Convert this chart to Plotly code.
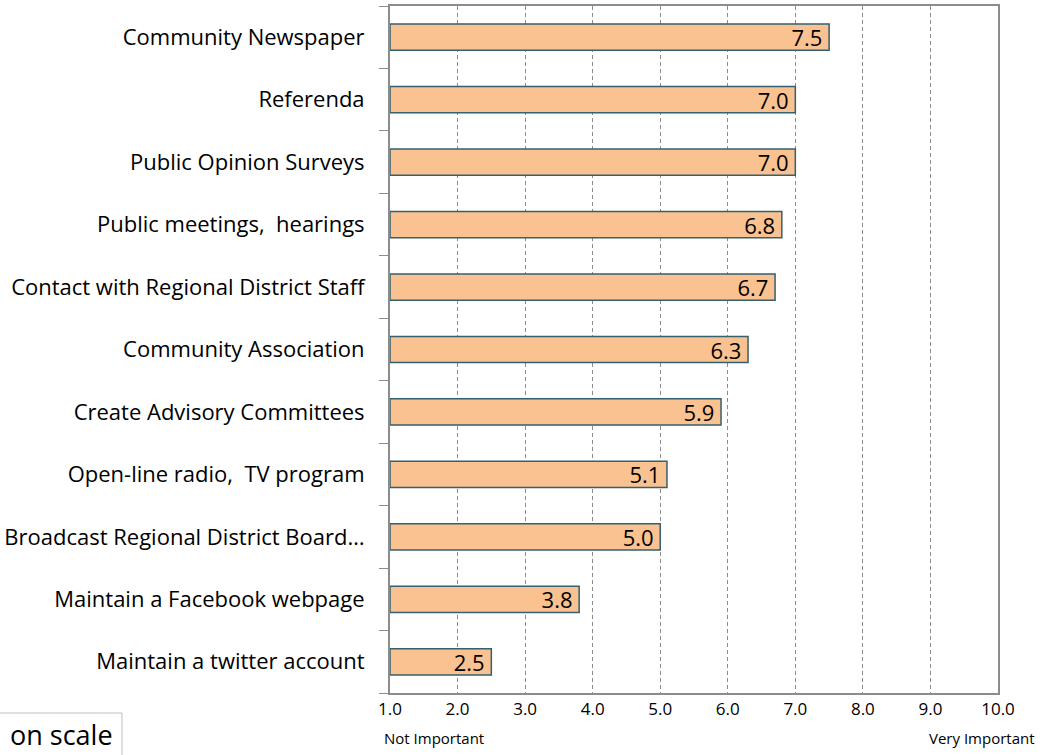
import plotly.graph_objects as go

categories = [
    "Community Newspaper",
    "Referenda",
    "Public Opinion Surveys",
    "Public meetings,  hearings",
    "Contact with Regional District Staff",
    "Community Association",
    "Create Advisory Committees",
    "Open-line radio,  TV program",
    "Broadcast Regional District Board…",
    "Maintain a Facebook webpage",
    "Maintain a twitter account",
]
values = [7.5, 7.0, 7.0, 6.8, 6.7, 6.3, 5.9, 5.1, 5.0, 3.8, 2.5]
tick_vals = [1, 2, 3, 4, 5, 6, 7, 8, 9, 10]
scale_low = "Not Important"
scale_high = "Very Important"
note_text = "on scale"
base_value = 1.0

FONT = "Open Sans"

fig = go.Figure()
fig.add_trace(go.Bar(
    y=categories,
    x=[v - base_value for v in values],
    base=base_value,
    orientation="h",
    marker=dict(color="#F9C290", line=dict(color="#34606F", width=1.5)),
    text=[f"{v:.1f}\u2009" for v in values],
    textposition="inside",
    insidetextanchor="end",
    constraintext="none",
    textfont=dict(family=FONT, size=22, color="#000000"),
    width=0.42,
    hoverinfo="skip",
))

fig.update_layout(
    width=1043, height=755,
    margin=dict(l=390, r=45, t=6, b=62, autoexpand=False),
    paper_bgcolor="white", plot_bgcolor="white",
    showlegend=False,
    font=dict(family=FONT, color="#000000"),
)
fig.update_xaxes(
    range=[1, 10], tickvals=tick_vals, tickformat=".1f",
    showgrid=True, gridcolor="#8C8C8C", griddash="4px,3px", gridwidth=1,
    showline=True, linecolor="#8C8C8C", linewidth=2, mirror=True,
    ticks="", tickfont=dict(family=FONT, size=17, color="#000000"),
    zeroline=False, automargin=False,
)
fig.update_yaxes(
    categoryorder="array", categoryarray=categories[::-1],
    showline=True, linecolor="#8C8C8C", linewidth=2, mirror=True,
    ticks="outside", tickson="boundaries", ticklen=9, tickcolor="#8C8C8C", tickwidth=1,
    tickfont=dict(family=FONT, size=22, color="#000000"),
    ticklabelstandoff=19,
    showgrid=False, automargin=False,
)

fig.add_annotation(text=scale_low, xref="paper", yref="paper", x=(382 - 390) / 608, y=(693 - 738) / 687,
                   xanchor="left", yanchor="middle", showarrow=False,
                   font=dict(family=FONT, size=15, color="#000000"))
fig.add_annotation(text=scale_high, xref="paper", yref="paper", x=(1037 - 390) / 608, y=(693 - 738) / 687,
                   xanchor="right", yanchor="middle", showarrow=False,
                   font=dict(family=FONT, size=15, color="#000000"))

# partially visible note box at bottom-left
fig.add_shape(type="rect", xref="paper", yref="paper",
              x0=-0.7, x1=(122 - 390) / 608, y0=-0.2, y1=(693 - 713) / 687,
              line=dict(color="#BFBFBF", width=1), fillcolor="white")
fig.add_annotation(text=note_text, xref="paper", yref="paper",
                   x=(8 - 390) / 608, y=(693 - 734) / 687,
                   xanchor="left", yanchor="middle", showarrow=False,
                   font=dict(family=FONT, size=27, color="#000000"))

fig.write_html("out.html", config={"displayModeBar": False},
               post_script="document.body.style.margin='0';document.body.style.padding='0';")
